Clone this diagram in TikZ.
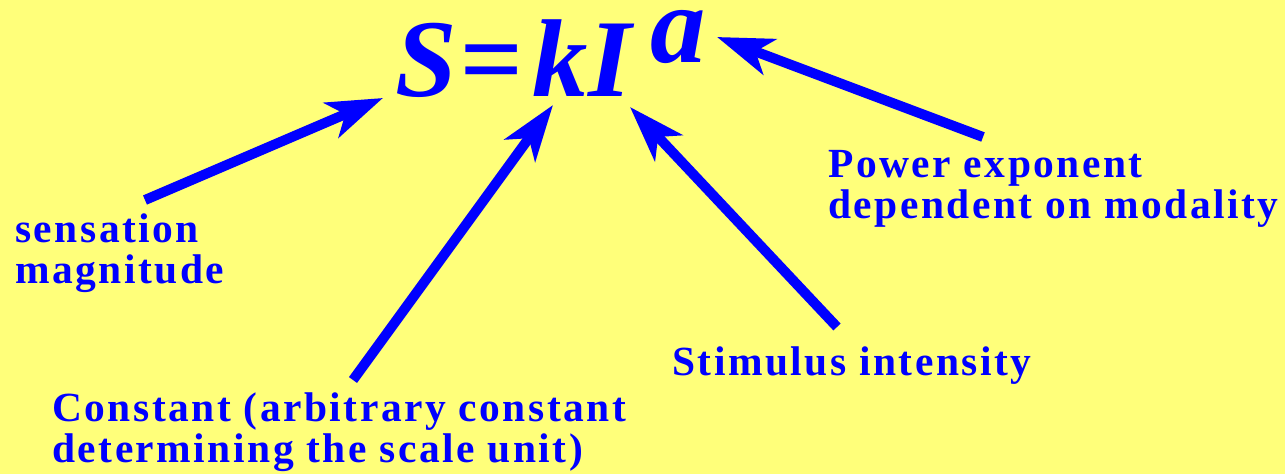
\documentclass[tikz,border=0pt]{standalone}
\usepackage{fontspec}
\setmainfont{Liberation Serif}
\newfontfamily\labelfont[LetterSpace=6]{Liberation Serif}
\usetikzlibrary{arrows.meta}
\definecolor{paper}{RGB}{255,255,122}
\definecolor{ink}{RGB}{0,0,255}

\begin{document}
\begin{tikzpicture}[x=0.02cm, y=-0.02cm, every node/.style={inner sep=0pt, text=ink},
	lbl/.style={anchor=base west, align=left, font=\labelfont\bfseries\fontsize{23.6}{22.8}\selectfont},
	formula/.style={anchor=base west, font=\bfseries\itshape\fontsize{63}{70}\selectfont},
	bigarrow/.style={draw=ink, line width=0.2cm, -{Stealth[length=1.12cm, width=0.75cm, inset=0.3cm]}}]
	\fill[paper] (0,0) rectangle (1285,474);
	% the law
	\node[formula] (law-S) at (395,96) {S};
	\node[formula] (law-eq) at (459,96) {=};
	\node[formula] (law-k) at (532,96) {k};
	\node[formula] (law-I) at (588,96) {I};
	\node[formula] (expo) at (650,62) {a};
	% the labels (base = last line)
	\node[lbl] (sens) at (15,283) {sensation\\magnitude};
	\node[lbl] (const) at (52,462) {Constant (arbitrary constant\\determining the scale unit)};
	\node[lbl] (stim) at (672,375) {Stimulus intensity};
	\node[lbl] (power) at (828,218) {Power exponent\\dependent on modality};
	% arrow ends
	\coordinate (tipS) at (383,98);
	\coordinate (tipk) at (553,105);
	\coordinate (tipI) at (630,107);
	\coordinate (tipa) at (717,37);
	\coordinate (sens-tail) at (145,200);
	\coordinate (const-tail) at (353,380);
	\coordinate (stim-tail) at (837,327);
	\coordinate (power-tail) at (983,137);
	\draw[bigarrow] (sens-tail) -- (tipS);
	\draw[bigarrow] (const-tail) -- (tipk);
	\draw[bigarrow] (stim-tail) -- (tipI);
	\draw[bigarrow] (power-tail) -- (tipa);
\end{tikzpicture}
\end{document}
